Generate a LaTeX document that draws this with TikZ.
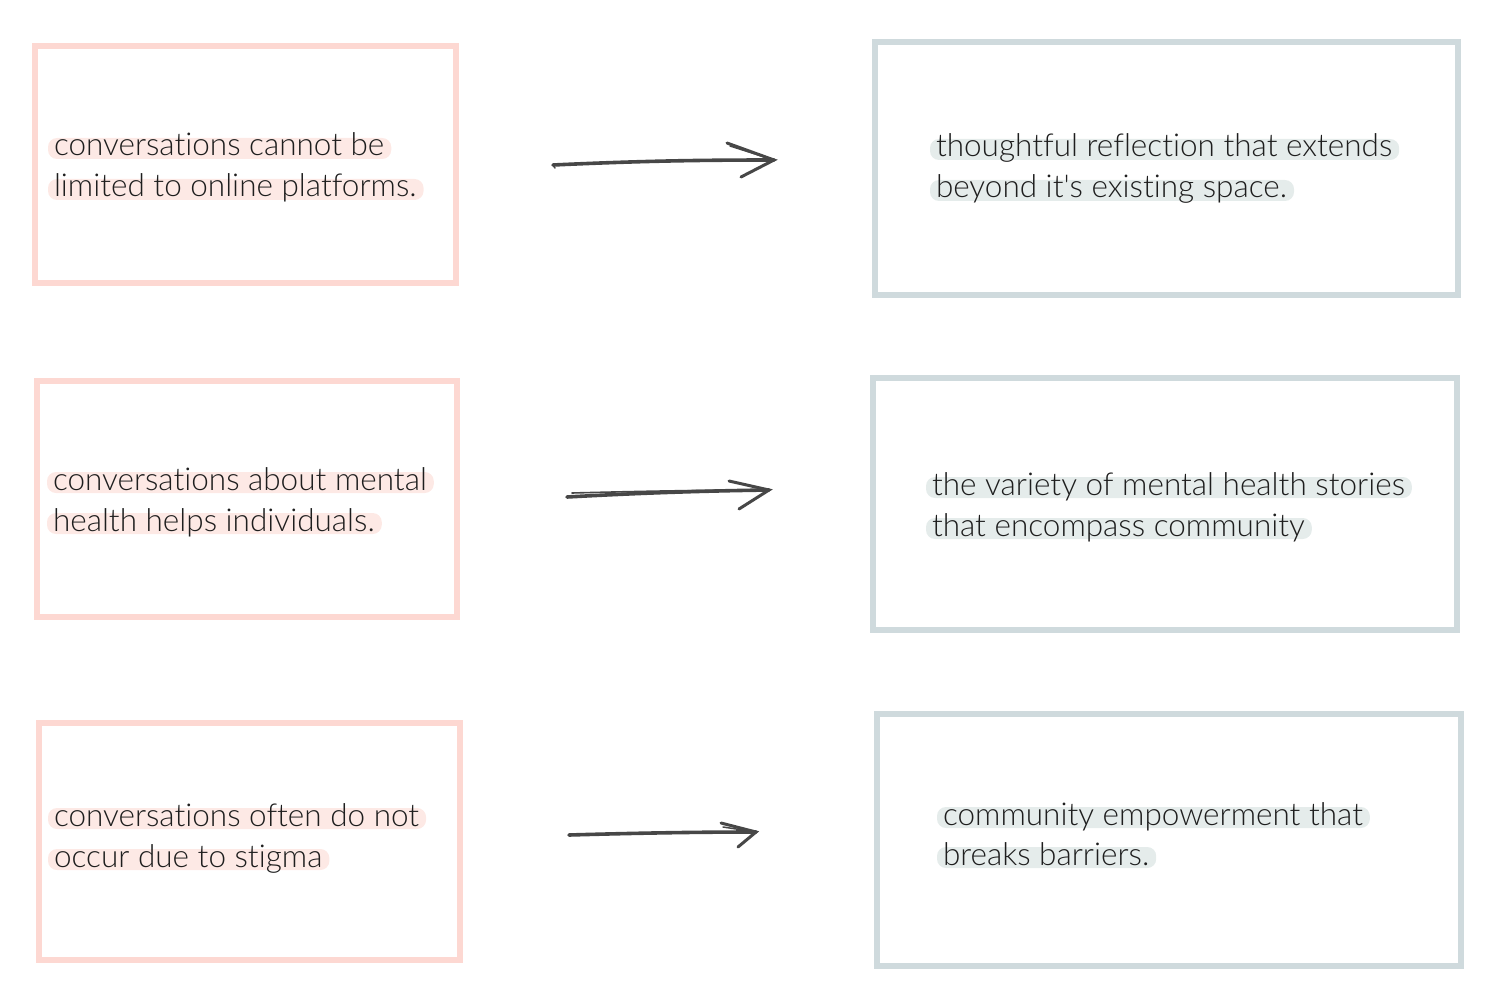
\documentclass[tikz,border=0pt]{standalone}
\usepackage{fontspec}
\setmainfont{Lato}[UprightFont=* Light, Ligatures={TeXOff,NoCommon}]
\usetikzlibrary{backgrounds,calc}
\definecolor{pinkline}{HTML}{FDD8D2}
\definecolor{pinkhl}{HTML}{FDE9E5}
\definecolor{greyline}{HTML}{CFDADD}
\definecolor{greyhl}{HTML}{E5ECEB}
\definecolor{ink}{HTML}{474747}
\definecolor{txtc}{HTML}{1E1E1E}
\tikzset{
  x=1pt, y=-1pt,
  pinkbox/.style={draw=pinkline, line width=5.5pt},
  greybox/.style={draw=greyline, line width=5.5pt},
  txt/.style={anchor=base west, inner sep=0pt, outer sep=0pt, text=txtc, font=\fontsize{31.5}{38}\selectfont},
  hlpink/.style={fill=pinkhl, rounded corners=9pt},
  hlgrey/.style={fill=greyhl, rounded corners=9pt},
  shaft/.style={draw=ink, line width=3.6pt, line cap=round},
  shaftthin/.style={draw=ink, line width=1.6pt, line cap=round},
  head/.style={draw=ink, line width=3pt, line cap=round},
}
\newcommand{\hlbar}[2]{%
  \fill[#2] ($(#1.base west)+(-6,3)$) rectangle ($(#1.base east)+(7,-18)$);}
\begin{document}
\begin{tikzpicture}
\useasboundingbox (0,0) rectangle (1493,1000);
% boxes
\draw[pinkbox] (35,46) rectangle (456,283);
\draw[pinkbox] (37,381) rectangle (457,617);
\draw[pinkbox] (39,723) rectangle (460,960);
\draw[greybox] (875,42) rectangle (1458,295);
\draw[greybox] (873,378) rectangle (1457,630);
\draw[greybox] (877,714) rectangle (1461,966);
% box nodes (invisible, for naming)
\node[inner sep=0pt, minimum width=421pt, minimum height=237pt] (L1) at (245.5,164.5) {};
\node[inner sep=0pt, minimum width=420pt, minimum height=236pt] (L2) at (247,499) {};
\node[inner sep=0pt, minimum width=421pt, minimum height=237pt] (L3) at (249.5,841.5) {};
\node[inner sep=0pt, minimum width=583pt, minimum height=253pt] (R1) at (1166.5,168.5) {};
\node[inner sep=0pt, minimum width=584pt, minimum height=252pt] (R2) at (1165,504) {};
\node[inner sep=0pt, minimum width=584pt, minimum height=252pt] (R3) at (1169,840) {};
% texts
\node[txt] (t1a) at (54,156) {conversations cannot be};
\node[txt] (t1b) at (54,197) {limited to online platforms.};
\node[txt] (t2a) at (53,490) {conversations about mental};
\node[txt] (t2b) at (53,531) {health helps individuals.};
\node[txt] (t3a) at (54,826) {conversations often do not};
\node[txt] (t3b) at (54,867) {occur due to stigma};
\node[txt] (t4a) at (936,157) {thoughtful reflection that extends};
\node[txt] (t4b) at (936,198) {beyond it's existing space.};
\node[txt] (t5a) at (932,495) {the variety of mental health stories};
\node[txt] (t5b) at (932,536) {that encompass community};
\node[txt] (t6a) at (943,825) {community empowerment that};
\node[txt] (t6b) at (943,865) {breaks barriers.};
\begin{scope}[on background layer]
\hlbar{t1a}{hlpink}\hlbar{t1b}{hlpink}
\hlbar{t2a}{hlpink}\hlbar{t2b}{hlpink}
\hlbar{t3a}{hlpink}\hlbar{t3b}{hlpink}
\hlbar{t4a}{hlgrey}\hlbar{t4b}{hlgrey}
\hlbar{t5a}{hlgrey}\hlbar{t5b}{hlgrey}
\hlbar{t6a}{hlgrey}\hlbar{t6b}{hlgrey}
\end{scope}
% arrows
\coordinate (a1s) at (553,165); \coordinate (a1e) at (774,160);
\coordinate (a2s) at (567,497); \coordinate (a2e) at (769,490);
\coordinate (a3s) at (569,835); \coordinate (a3e) at (756,832);
\draw[shaft] (a1s) .. controls (640,161) and (700,160) .. (a1e);
\draw[shaftthin] (a1s) -- ++(2,3);
\draw[head] (727,143) -- (a1e) -- (741,177);
\draw[head, line width=1.5pt] (730,146) -- (a1e);
\draw[shaft] (a2s) .. controls (640,493) and (700,491) .. (a2e);
\draw[shaftthin] (572,493) .. controls (650,491) and (710,490) .. (a2e);
\draw[head] (729,481) -- (a2e) -- (739,509);
\draw[shaft] (a3s) .. controls (640,833) and (700,832) .. (a3e);
\draw[head] (721,823) -- (a3e) -- (738,847);
\draw[head, line width=1.5pt] (723,827) -- (a3e);
\end{tikzpicture}
\end{document}
